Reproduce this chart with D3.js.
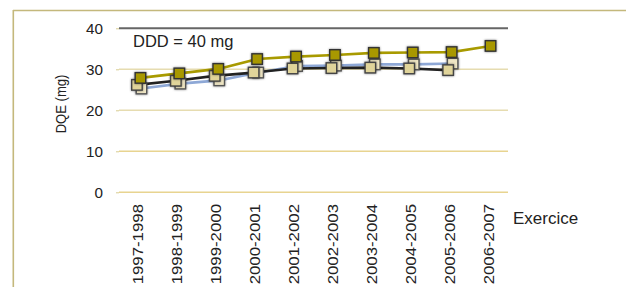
<!DOCTYPE html>
<html><head><meta charset="utf-8">
<script src="https://cdn.jsdelivr.net/npm/d3@7"></script>
<style>
html,body{margin:0;padding:0;background:#fff;}
svg text{font-family:"Liberation Sans",Arial,sans-serif;fill:#222;}
</style></head>
<body><svg id="c" width="626" height="287"></svg>
<script>
const categories = ["1997-1998","1998-1999","1999-2000","2000-2001","2001-2002","2002-2003","2003-2004","2004-2005","2005-2006","2006-2007"];
const seriesBlue  = [25.3, 26.5, 27.3, 29.2, 30.8, 30.9, 31.2, 31.2, 31.4, null];
const seriesBlack = [26.2, 27.2, 28.4, 29.2, 30.2, 30.3, 30.4, 30.2, 29.8, null];
const seriesOlive = [27.9, 29.0, 30.1, 32.5, 33.1, 33.5, 34.0, 34.1, 34.2, 35.7];
const yTicks = [0, 10, 20, 30, 40];

const svg = d3.select("#c");
function stretch(sel, f){
  sel.each(function(){
    const L = this.getComputedTextLength();
    d3.select(this).attr("textLength", L*f).attr("lengthAdjust","spacingAndGlyphs");
  });
}
// frame
svg.append("line").attr("x1",13).attr("x2",626).attr("y1",10.5).attr("y2",10.5).attr("stroke","#c4b87c").attr("stroke-width",1.6);
svg.append("line").attr("x1",13.3).attr("x2",13.3).attr("y1",10).attr("y2",287).attr("stroke","#c4b87c").attr("stroke-width",1.6);

const x = d3.scaleBand().domain(categories).range([119,508]);
const y = d3.scaleLinear().domain([0,40]).range([192.3,28.3]);

// gridlines
svg.append("g").selectAll("line").data(yTicks).join("line")
  .attr("x1",119).attr("x2",508)
  .attr("y1",d=>y(d)).attr("y2",d=>y(d))
  .attr("stroke",d=>d===40?"#666":(d>=20?"#e6dcb0":"#e8d490"))
  .attr("stroke-width",d=>d===40?2:1.5);

// y axis
const yAxis = d3.axisLeft(y).tickValues(yTicks).tickSize(3).tickPadding(13);
const ya = svg.append("g").attr("transform","translate(119,0)").call(yAxis);
ya.select(".domain").remove();
ya.selectAll(".tick line").attr("stroke","#d8cc90");
ya.selectAll(".tick text").style("font-size","14.5px").attr("fill","#222").attr("dy","0.36em");
stretch(ya.selectAll(".tick text"), 1.05);

// x axis labels
const xAxis = d3.axisBottom(x).tickSize(0).tickPadding(0);
const xa = svg.append("g").attr("transform","translate(0,192)").call(xAxis);
xa.select(".domain").remove();
xa.selectAll(".tick text")
  .style("font-size","14px").attr("fill","#222")
  .attr("text-anchor","end")
  .attr("transform","translate(0,12) rotate(-90)")
  .attr("x",0).attr("y",0).attr("dy","0.36em");
stretch(xa.selectAll(".tick text"), 1.2);

svg.append("text").attr("x",513).attr("y",224).style("font-size","17px").text("Exercice");
const dqe = svg.append("text").attr("transform","translate(66,104) rotate(-90)").attr("text-anchor","middle").style("font-size","15px").text("DQE (mg)");
stretch(dqe, 0.87);
svg.append("text").attr("x",133).attr("y",47).style("font-size","16.5px").text("DDD = 40 mg");

const series = [
  {vals:seriesBlue,  dx:3,    line:"#8ea8d6", fill:"#efe6c4", stroke:"#555"},
  {vals:seriesBlack, dx:-1.5, line:"#222",    fill:"#e0d49a", stroke:"#444"},
  {vals:seriesOlive, dx:2,    line:"#a89a00", fill:"#a89800", stroke:"#333"}
];
const cx = (i,dx)=>x(categories[i])+x.bandwidth()/2+dx;
series.forEach(s=>{
  const pts = s.vals.map((v,i)=>({v,i})).filter(d=>d.v!=null);
  svg.append("path").datum(pts)
    .attr("fill","none").attr("stroke",s.line).attr("stroke-width",2.6)
    .attr("d",d3.line().x(d=>cx(d.i,s.dx)).y(d=>y(d.v)));
});
series.forEach(s=>{
  const pts = s.vals.map((v,i)=>({v,i})).filter(d=>d.v!=null);
  const sz = 10.5;
  svg.append("g").selectAll("rect").data(pts).join("rect")
    .attr("x",d=>cx(d.i,s.dx)-sz/2).attr("y",d=>y(d.v)-sz/2)
    .attr("width",sz).attr("height",sz)
    .attr("fill",s.fill).attr("stroke",s.stroke).attr("stroke-width",1.4)
    .style("filter","drop-shadow(0px 0px 0.8px rgba(0,0,0,0.5))");
});
</script></body></html>
